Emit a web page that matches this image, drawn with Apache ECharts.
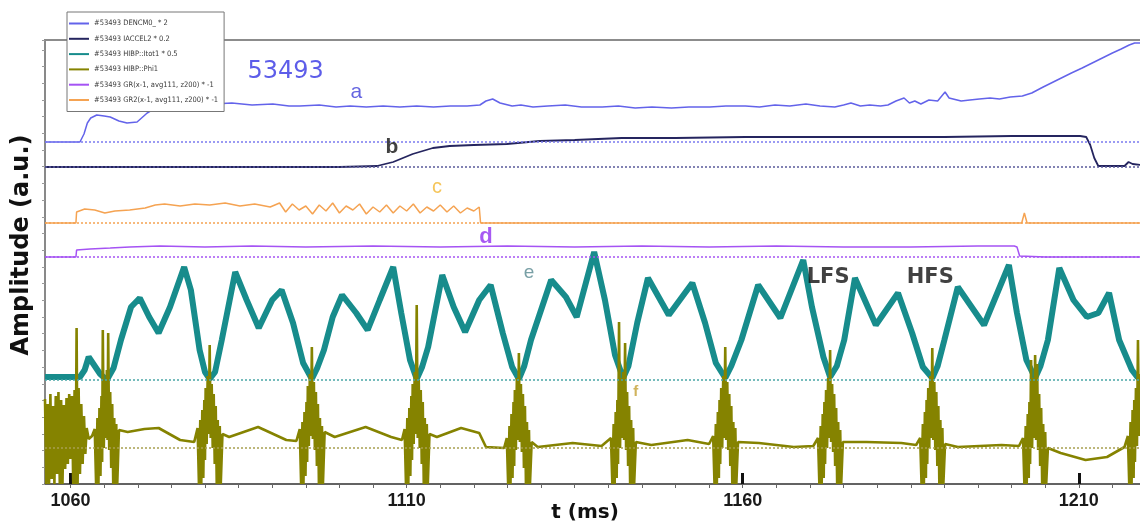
<!DOCTYPE html>
<html>
<head>
<meta charset="utf-8">
<script src="https://cdn.jsdelivr.net/npm/echarts@6.0.0/dist/echarts.min.js"></script>
<style>
  html, body { margin: 0; padding: 0; background: #fff; }
  #chart { width: 1140px; height: 525px; }
</style>
</head>
<body>
<div id="chart"></div>
<script>
// time axis, ms
const tMin = 1056.2;
const tMax = 1219.4;
const majorTicks = [1060, 1110, 1160, 1210];
const minorTicks = [1060, 1065, 1070, 1075, 1080, 1085, 1090, 1095, 1100, 1105, 1110, 1115, 1120, 1125,
  1130, 1135, 1140, 1145, 1150, 1155, 1160, 1165, 1170, 1175, 1180, 1185, 1190, 1195, 1200, 1205, 1210, 1215];

const legendNames = [
  '#53493 DENCM0_ * 2',
  '#53493 IACCEL2 * 0.2',
  '#53493 HIBP::Itot1 * 0.5',
  '#53493 HIBP::Phi1',
  '#53493 GR(x-1, avg111, z200) * -1',
  '#53493 GR2(x-1, avg111, z200) * -1'
];

// zero level of every trace (the dotted lines)
const zeroDencm = 342;
const zeroIaccel = 317;
const zeroGr2 = 261;
const zeroGr = 227;
const zeroItot = 104;
const zeroPhi = 36;

// a : DENCM0
const dencm = [[1056.2,342],[1061.4,342],[1062.0,350],[1062.5,361],[1063.0,366],[1063.9,369],[1065.0,368],[1065.9,367],
  [1067.2,363],[1068.4,361],[1069.9,362],[1071.4,371],[1072.6,376],[1074.0,378],[1076.0,379],[1078.5,380],[1081.2,380],
  [1084.0,381],[1087.0,379],[1090.1,380],[1092.5,378],[1094.1,378],[1097.0,379],[1099.5,377],[1101.6,378],[1104.0,377],
  [1106.5,378],[1109.0,377],[1111.5,378],[1114.0,377],[1116.5,378],[1119.0,378],[1120.9,379],[1121.8,383],[1122.8,385],
  [1123.9,381],[1125.7,378],[1127.0,379],[1128.8,377],[1131.0,378],[1133.6,379],[1136.0,377],[1139.1,377],[1141.5,378],
  [1144.0,376],[1146.5,377],[1149.4,376],[1152.0,377],[1155.1,377],[1157.5,378],[1160.4,378],[1162.5,377],[1164.8,379],
  [1167.0,378],[1169.4,380],[1171.5,378],[1173.7,377],[1175.0,379],[1176.1,381],[1177.5,378],[1178.9,379],[1180.5,378],
  [1181.6,379],[1182.8,383],[1184.0,386],[1184.8,381],[1185.6,383],[1186.5,380],[1187.7,384],[1189.0,383],[1190.1,392],
  [1190.7,386],[1191.3,385],[1192.5,383],[1193.8,384],[1195.2,385],[1196.8,386],[1198.2,385],[1199.8,387],[1201.6,388],
  [1203.0,391],[1204.7,397],[1206.8,404],[1208.9,411],[1210.5,416],[1212.0,421],[1213.5,426],[1215.0,431],[1216.3,435],
  [1217.5,439],[1218.3,441],[1219.4,441]];

// b : IACCEL2
const iaccel = [[1056.2,317],[1070.0,317],[1085.0,317],[1100.0,317],[1105.6,318],[1108.0,322],[1110.9,330],[1113.9,336],
  [1116.4,338],[1120.0,339],[1124.9,340],[1129.8,343],[1135.0,344],[1142.0,346],[1150.0,346],[1160.4,347],[1170.0,347],
  [1178.5,347],[1190.0,347],[1200.0,348],[1210.2,348],[1211.1,347],[1211.7,339],[1212.3,326],[1212.9,318],[1216.8,318],
  [1217.4,322],[1218.0,320],[1219.4,319]];

// c : GR2
const gr2 = [[1056.2,261],[1060.8,261],[1060.9,272],[1062.1,275],[1063.6,274],[1065.1,271],[1066.6,273],[1068.8,274],
  [1071.1,276],[1072.6,279],[1074.0,280],[1076.3,278],[1078.5,280],[1080.7,279],[1083.0,281],[1085.2,278],[1087.4,280],
  [1089.7,277],[1091.1,281],[1092,272],[1093,280],[1094,274],[1095,278],[1096,270],[1097,279],[1098,273],[1099,281],
  [1100,271],[1101,278],[1102,274],[1103,280],[1104,270],[1105,277],[1106,272],[1107,279],[1108,271],[1109,278],
  [1110,273],[1111,280],[1112,271],[1113,277],[1114,273],[1115,279],[1116,272],[1117,278],[1118,271],[1119,276],
  [1120,273],[1120.8,277],[1121.0,261],[1201.5,261],[1201.9,271],[1202.3,261],[1219.4,261]];

// d : GR
const gr = [[1056.2,227],[1060.8,227],[1060.9,234],[1062.9,235],[1065.9,236],[1068.8,237],[1073.3,238],[1080.0,237],
  [1087.0,238],[1095.0,237],[1105.0,238],[1115.0,237],[1125.0,238],[1135.0,237],[1145.0,238],[1155.0,237],[1165.0,238],
  [1175.0,237],[1185.0,237],[1195.0,238],[1200.4,238],[1200.8,237],[1201.2,228],[1205.0,227],[1219.4,227]];

// e : HIBP Itot1
const itot = [[1056.2,107],[1061.4,107],[1062.1,114],[1062.7,127],[1063.6,118],[1064.4,110],[1065.4,104],
  [1066.4,116],[1067.5,144],[1069.0,177],[1070.3,186],[1071.7,167],[1073.1,151],[1074.8,177],[1076.9,217],[1077.9,194],
  [1079.2,134],[1080.0,112],[1080.7,105],
  [1081.5,112],[1082.5,144],[1084.5,212],[1086.2,184],[1088.0,156],[1090.0,184],[1091.4,194],[1093.1,161],[1094.6,121],
  [1095.9,105],
  [1096.7,116],[1097.7,134],[1099.0,167],[1100.4,189],[1102.5,171],[1104.2,154],[1106.0,184],[1108.0,217],[1109.2,171],
  [1110.5,124],[1111.5,105],
  [1112.3,117],[1113.2,137],[1115.3,209],[1117.0,177],[1118.7,152],[1120.8,184],[1122.5,199],[1124.3,151],[1125.7,117],
  [1126.7,105],
  [1127.5,118],[1128.5,144],[1131.5,204],[1133.7,187],[1135.3,167],[1137.9,232],[1139.5,184],[1141.0,129],[1142.2,106],
  [1143.0,118],[1144.3,161],[1145.9,206],[1149.0,169],[1152.5,201],[1154.4,161],[1156.0,121],[1157.4,106],
  [1158.3,118],[1159.8,144],[1162.3,199],[1165.6,166],[1169.0,224],[1170.3,177],[1172.0,127],[1173.0,107],
  [1174.0,118],[1175.1,144],[1176.7,206],[1179.8,159],[1183.1,191],[1185.2,151],[1186.8,117],[1188.2,106],
  [1189.0,118],[1190.0,144],[1192.0,197],[1195.9,159],[1199.6,219],[1200.8,171],[1202.2,124],[1203.5,106],
  [1204.3,118],[1205.4,144],[1207.1,216],[1209.2,184],[1211.2,167],[1212.9,171],[1214.5,191],[1216.0,144],[1217.9,114],
  [1218.7,107],[1219.4,106]];

// f : HIBP Phi1
const phi = [
  [1056.2,85],[1056.4,0],[1056.6,80],[1056.8,0],[1057.0,90],[1057.2,5],[1057.4,78],[1057.6,0],[1057.8,88],[1058.0,10],
  [1058.2,92],[1058.4,0],[1058.6,84],[1058.8,0],[1059.0,79],[1059.2,15],[1059.4,86],[1059.6,20],[1059.8,90],[1060.0,25],
  [1060.2,88],[1060.4,0],[1060.6,94],[1060.75,0],[1060.9,156],[1061.05,0],[1061.2,96],[1061.4,10],[1061.6,80],[1061.8,20],
  [1062.0,68],[1062.2,30],[1062.4,56],[1062.7,45],[1063.2,48],
  [1063.6,55],[1063.8,0],[1064.0,66],[1064.15,0],[1064.3,76],[1064.45,8],[1064.6,88],[1064.7,22],[1064.8,154],[1064.95,36],
  [1065.1,104],[1065.25,46],[1065.4,114],[1065.5,44],[1065.6,151],[1065.75,34],[1065.9,92],[1066.05,16],[1066.2,80],
  [1066.35,0],[1066.5,66],[1066.65,0],[1066.8,60],[1066.95,0],[1067.2,54],
  [1068.5,52],[1071.0,55],[1073.1,56],[1076.3,44],[1078.4,42],
  [1078.9,56],[1079.1,0],[1079.3,64],[1079.45,0],[1079.6,74],[1079.75,6],[1079.9,84],[1080.0,24],[1080.1,96],[1080.25,40],
  [1080.4,108],[1080.55,50],[1080.7,139],[1080.85,46],[1081.0,100],[1081.15,36],[1081.3,90],[1081.45,20],[1081.6,78],
  [1081.75,0],[1081.9,64],[1082.05,0],[1082.2,58],[1082.35,0],[1082.6,50],
  [1083.6,47],[1087.9,57],[1092.1,44],[1093.6,43],
  [1094.1,55],[1094.3,0],[1094.5,62],[1094.65,0],[1094.8,72],[1094.95,8],[1095.1,82],[1095.2,22],[1095.3,98],[1095.45,38],
  [1095.6,110],[1095.75,48],[1095.9,137],[1096.05,45],[1096.2,102],[1096.35,34],[1096.5,92],[1096.65,18],[1096.8,80],
  [1096.95,0],[1097.1,66],[1097.25,0],[1097.4,58],[1097.55,0],[1097.8,52],
  [1099.3,47],[1103.9,57],[1107.7,47],[1109.3,44],
  [1109.7,55],[1109.9,0],[1110.1,66],[1110.25,0],[1110.4,76],[1110.55,8],[1110.7,88],[1110.8,24],[1110.9,100],[1111.05,40],
  [1111.2,112],[1111.35,50],[1111.5,179],[1111.65,46],[1111.8,104],[1111.95,36],[1112.1,94],[1112.25,20],[1112.4,82],
  [1112.55,0],[1112.7,66],[1112.85,0],[1113.0,60],[1113.15,0],[1113.4,50],
  [1114.5,47],[1118.1,56],[1120.8,51],[1121.8,37],[1124.5,36],
  [1124.9,46],[1125.1,0],[1125.3,58],[1125.45,0],[1125.6,70],[1125.75,6],[1125.9,82],[1126.0,18],[1126.1,94],[1126.25,34],
  [1126.4,106],[1126.55,44],[1126.7,131],[1126.85,42],[1127.0,100],[1127.15,32],[1127.3,90],[1127.45,16],[1127.6,78],
  [1127.75,0],[1127.9,62],[1128.05,0],[1128.2,54],[1128.35,0],[1128.6,42],
  [1129.5,37],[1134.7,41],[1139.0,38],
  [1140.4,46],[1140.6,0],[1140.8,60],[1140.95,0],[1141.1,72],[1141.25,6],[1141.35,84],[1141.45,20],[1141.6,162],[1141.75,36],
  [1141.9,106],[1142.05,46],[1142.2,112],[1142.35,44],[1142.5,141],[1142.65,34],[1142.8,92],[1142.95,18],[1143.1,78],
  [1143.25,0],[1143.4,64],[1143.55,0],[1143.7,56],[1143.85,0],[1144.1,42],
  [1146.4,39],[1151.8,44],[1155.0,40],
  [1155.6,48],[1155.8,0],[1156.0,60],[1156.15,0],[1156.3,72],[1156.45,6],[1156.55,84],[1156.65,20],[1156.8,96],[1156.95,36],
  [1157.1,108],[1157.25,46],[1157.4,137],[1157.55,44],[1157.7,102],[1157.85,34],[1158.0,90],[1158.15,18],[1158.3,78],
  [1158.45,0],[1158.6,62],[1158.75,0],[1158.9,56],[1159.05,0],[1159.3,42],
  [1162.4,41],[1167.6,37],[1170.5,38],
  [1171.2,46],[1171.4,0],[1171.6,58],[1171.75,0],[1171.9,70],[1172.05,6],[1172.15,82],[1172.25,20],[1172.4,94],[1172.55,36],
  [1172.7,106],[1172.85,46],[1173.0,134],[1173.15,42],[1173.3,100],[1173.45,32],[1173.6,90],[1173.75,18],[1173.9,76],
  [1174.05,0],[1174.2,62],[1174.35,0],[1174.5,54],[1174.65,0],[1174.9,42],
  [1178.4,42],[1183.6,41],[1185.8,39],
  [1186.4,46],[1186.6,0],[1186.8,60],[1186.95,0],[1187.1,72],[1187.25,6],[1187.35,84],[1187.45,20],[1187.6,96],[1187.75,36],
  [1187.9,108],[1188.05,46],[1188.2,136],[1188.35,44],[1188.5,102],[1188.65,34],[1188.8,92],[1188.95,18],[1189.1,78],
  [1189.25,0],[1189.4,64],[1189.55,0],[1189.7,56],[1189.85,0],[1190.1,40],
  [1192.0,37],[1198.5,39],[1201.1,38],
  [1201.7,46],[1201.9,0],[1202.1,58],[1202.25,0],[1202.4,70],[1202.55,6],[1202.65,82],[1202.75,20],[1202.9,124],[1203.05,36],
  [1203.2,106],[1203.35,46],[1203.5,129],[1203.65,44],[1203.8,120],[1203.95,34],[1204.1,90],[1204.25,18],[1204.4,76],
  [1204.55,0],[1204.7,60],[1204.85,0],[1205.0,52],[1205.15,0],[1205.4,36],
  [1207.3,31],[1211.0,24],[1214.2,27],[1216.8,37],
  [1217.3,48],[1217.5,0],[1217.7,62],[1217.85,0],[1218.0,74],[1218.15,6],[1218.25,84],[1218.35,22],[1218.5,96],[1218.65,38],
  [1218.8,144],[1218.95,48],[1219.1,110],[1219.4,60]
];

// text written on the figure: [text, t, amplitude]
const notes = [
  ['53493', 1092.0, 412],
  ['a', 1102.5, 392],
  ['b', 1107.8, 337],
  ['c', 1114.5, 297],
  ['d', 1121.8, 247],
  ['e', 1128.2, 211],
  ['f', 1144.1, 92],
  ['LFS', 1172.7, 206],
  ['HFS', 1187.9, 206]
];

const font = '"Liberation Sans", Arial, sans-serif';
const wideFont = '"DejaVu Sans", Verdana, sans-serif';
const noteStyle = {
  '53493': { color: '#3434e4', fontSize: 24, fontWeight: 'normal', fontFamily: wideFont },
  a: { color: '#3d3dd8', fontSize: 21, fontWeight: 'normal' },
  b: { color: '#111', fontSize: 21, fontWeight: 'bold' },
  c: { color: '#f2b631', fontSize: 20, fontWeight: 'normal' },
  d: { color: '#9130f0', fontSize: 22, fontWeight: 'bold' },
  e: { color: '#56878e', fontSize: 19, fontWeight: 'normal' },
  f: { color: '#c4a033', fontSize: 15, fontWeight: 'bold' },
  LFS: { color: '#111', fontSize: 21, fontWeight: 'bold', fontFamily: wideFont },
  HFS: { color: '#111', fontSize: 21, fontWeight: 'bold', fontFamily: wideFont }
};

const colA = '#6363ea';
const colB = '#25255f';
const colC = '#f5a352';
const colD = '#a553f4';
const colE = '#178c8c';
const colF = '#858300';

function zeroLine(value, color) {
  return {
    silent: true,
    symbol: 'none',
    animation: false,
    label: { show: false },
    lineStyle: { type: [2, 2], width: 1.5, color: color },
    data: [{ yAxis: value }]
  };
}

function trace(name, data, color, width, zero, zeroColor) {
  return {
    name: name,
    type: 'line',
    data: data,
    showSymbol: false,
    symbol: 'none',
    silent: true,
    lineStyle: { color: color, width: width },
    itemStyle: { color: color },
    markLine: zeroLine(zero, zeroColor || color)
  };
}

const chart = echarts.init(document.getElementById('chart'));

chart.setOption({
  animation: false,
  grid: {
    left: 45, right: -2, top: 40, bottom: 41,
    containLabel: false, outerBoundsMode: 'none',
    show: true, borderColor: '#8c8c8c', borderWidth: 2
  },
  legend: {
    data: legendNames,
    orient: 'vertical',
    left: 67,
    top: 12,
    padding: [6, 6, 6, 2],
    itemWidth: 20,
    itemHeight: 2,
    itemGap: 4.3,
    icon: 'rect',
    backgroundColor: '#fff',
    borderColor: '#777',
    borderWidth: 1,
    z: 10,
    textStyle: {
      fontFamily: '"Liberation Sans Narrow", "DejaVu Sans Condensed", sans-serif',
      fontSize: 7.5,
      lineHeight: 11,
      color: '#3a3a3a'
    }
  },
  xAxis: [
    {
      type: 'value',
      min: tMin,
      max: tMax,
      name: 't (ms)',
      nameLocation: 'middle',
      nameGap: 19,
      nameMoveOverlap: false,
      nameTextStyle: { fontFamily: wideFont, fontSize: 20, fontWeight: 'bold', color: '#111', padding: [0, 17, 0, 0] },
      axisLine: { show: true, onZero: false, lineStyle: { color: '#555', width: 1.5 } },
      axisTick: { show: true, inside: true, length: 11, customValues: majorTicks, lineStyle: { color: '#111', width: 3 } },
      axisLabel: {
        show: true, customValues: majorTicks, margin: 8,
        formatter: v => String(v),
        fontFamily: font, fontSize: 18, fontWeight: 'bold', color: '#1a1a1a'
      },
      splitLine: { show: false }
    },
    {
      type: 'value',
      min: tMin,
      max: tMax,
      position: 'bottom',
      axisLine: { show: false },
      axisTick: { show: true, length: 4, customValues: minorTicks, lineStyle: { color: '#666', width: 1 } },
      axisLabel: { show: false },
      splitLine: { show: false }
    }
  ],
  yAxis: {
    type: 'value',
    min: 0,
    max: 444,
    interval: 16.7,
    name: 'Amplitude (a.u.)',
    nameLocation: 'middle',
    nameGap: 11,
    nameMoveOverlap: false,
    nameRotate: 90,
    nameTextStyle: { fontFamily: wideFont, fontSize: 24, fontWeight: 'bold', color: '#111', padding: [0, 0, 0, 34] },
    axisLine: { show: true, lineStyle: { color: '#888', width: 1.5 } },
    axisTick: { show: true, length: 3, lineStyle: { color: '#999' } },
    axisLabel: { show: false },
    splitLine: { show: false }
  },
  series: [
    trace(legendNames[0], dencm, colA, 1.5, zeroDencm, '#7b7bf0'),
    trace(legendNames[1], iaccel, colB, 1.8, zeroIaccel, '#5a5a9a'),
    trace(legendNames[5], gr2, colC, 1.5, zeroGr2),
    trace(legendNames[4], gr, colD, 1.5, zeroGr),
    trace(legendNames[2], itot, colE, 6, zeroItot, '#4aa6a6'),
    trace(legendNames[3], phi, colF, 2.6, zeroPhi, '#a8a050'),
    {
      type: 'scatter',
      silent: true,
      symbolSize: 1,
      itemStyle: { color: 'transparent' },
      z: 20,
      data: notes.map(n => ({
        value: [n[1], n[2]],
        label: Object.assign({ show: true, position: 'inside', formatter: n[0], fontFamily: font }, noteStyle[n[0]])
      }))
    }
  ]
});
</script>
</body>
</html>
